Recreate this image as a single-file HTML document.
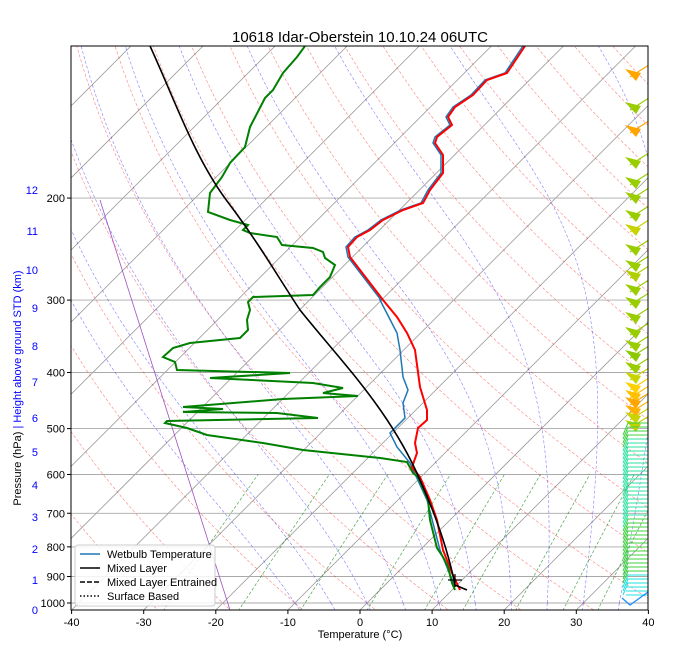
<!DOCTYPE html>
<html><head><meta charset="utf-8"><style>
body{margin:0;background:#fff;}
svg{display:block;font-family:"Liberation Sans","DejaVu Sans",sans-serif;}
</style></head><body>
<svg id="s" width="676" height="662" xmlns="http://www.w3.org/2000/svg">
<defs><clipPath id="c"><rect x="71" y="46" width="577" height="564"/></clipPath></defs>
<rect width="676" height="662" fill="#fff"/>
<g id="bg" clip-path="url(#c)"></g>
<g id="data" clip-path="url(#c)"></g>
<rect x="71" y="46" width="577" height="564" fill="none" stroke="#000" stroke-width="1"/>
<text x="360" y="42" font-size="15" text-anchor="middle">10618 Idar-Oberstein 10.10.24 06UTC</text>
<g id="ax" font-size="11"></g>
<g font-size="11">
<rect x="75" y="545" width="140" height="61" fill="#fff" fill-opacity="0.85" stroke="#ccc" rx="3"/>
<line x1="80" y1="554" x2="100" y2="554" stroke="#1f77b4" stroke-width="1.5"/><text x="107" y="558">Wetbulb Temperature</text>
<line x1="80" y1="568" x2="100" y2="568" stroke="#000" stroke-width="1.5"/><text x="107" y="572">Mixed Layer</text>
<line x1="80" y1="582" x2="100" y2="582" stroke="#000" stroke-width="1.5" stroke-dasharray="5,2"/><text x="107" y="586">Mixed Layer Entrained</text>
<line x1="80" y1="596" x2="100" y2="596" stroke="#000" stroke-width="1.5" stroke-dasharray="1.5,2"/><text x="107" y="600">Surface Based</text>
</g>
<text transform="translate(21,388) rotate(-90)" font-size="11" text-anchor="middle"><tspan fill="#000">Pressure (hPa)</tspan><tspan fill="#00f">  |  Height above ground STD (km)</tspan></text>
<text x="360" y="638" font-size="11" text-anchor="middle">Temperature (°C)</text>
</svg>
<script>
var NS="http://www.w3.org/2000/svg";
function Y(p){return 603+251.6*Math.log(p/1000);}
function X(T,y){return 360+T*7.21+(610-y);}
function el(g,tag,a,txt){var e=document.createElementNS(NS,tag);for(var k in a)e.setAttribute(k,a[k]);if(txt!=null)e.textContent=txt;document.getElementById(g).appendChild(e);return e;}
function pl(g,pts,a){a.points=pts.map(function(q){return q[0].toFixed(1)+","+q[1].toFixed(1)}).join(" ");a.fill="none";el(g,"polyline",a);}
for(var T=-120;T<=40;T+=10){pl("bg",[[X(T,610),610],[X(T,46),46]],{stroke:"#999","stroke-width":0.8});}
[1000,900,800,700,600,500,400,300,200].forEach(function(p){pl("bg",[[71,Y(p)],[648,Y(p)]],{stroke:"#aaa","stroke-width":0.9});});
for(var th=243.15;th<=473.15;th+=10){var pts=[];for(var p=1050;p>=100;p-=10){var t=th*Math.pow(p/1000,0.286)-273.15;var y=Y(p);pts.push([X(t,y),y]);}pl("bg",pts,{stroke:"#f00","stroke-width":0.6,"stroke-dasharray":"3,2",opacity:0.5});}
function es(tc){return 6.112*Math.exp(17.67*tc/(tc+243.5));}
for(var T0=-10;T0<=40;T0+=5){var t=T0+273.15;var up=[];
 for(var pp=1000;pp>=100;pp-=5){var tc=t-273.15;var e=es(tc);var rs=0.622*e/(pp-e);var dt=(287*t+2.5e6*rs)/(1004+2.5e6*2.5e6*rs*0.622/(287*t*t))/pp;var y=Y(pp);up.push([X(tc,y),y]);t-=dt*5;}
 pl("bg",up,{stroke:"#00f","stroke-width":0.6,"stroke-dasharray":"3,2",opacity:0.5});
 t=T0+273.15;var dn=[];for(var pp=1000;pp<=1050;pp+=5){var tc=t-273.15;var y=Y(pp);dn.push([X(tc,y),y]);var e=es(tc);var rs=0.622*e/(pp-e);var dt=(287*t+2.5e6*rs)/(1004+2.5e6*2.5e6*rs*0.622/(287*t*t))/pp;t+=dt*5;}
 pl("bg",dn,{stroke:"#00f","stroke-width":0.6,"stroke-dasharray":"3,2",opacity:0.5});
}
[0.0004,0.001,0.002,0.004,0.007,0.01,0.016,0.024,0.032].forEach(function(w){var pts=[];for(var p=1050;p>=600;p-=10){var e=p*w/(0.622+w);var l=Math.log(e/6.112);var td=243.5*l/(17.67-l);var y=Y(p);pts.push([X(td,y),y]);}pl("bg",pts,{stroke:"#008000","stroke-width":0.7,"stroke-dasharray":"3,2",opacity:0.7});});
pl("bg",[[100,200],[230,610]],{stroke:"#a050c0","stroke-width":0.8});
var red=[[525,46],[507,73],[487,80],[473,95],[455,107],[448,117],[452,125],[437,137],[435,143],[443,155],[443,173],[430,190],[423,203],[403,210],[383,220],[370,230],[357,237],[348,247],[350,257],[360,270],[383,300],[397,317],[407,333],[415,350],[420,387],[427,410],[427,420],[418,428],[415,443],[417,453],[412,467],[420,477],[430,500],[437,520],[443,550],[452,573],[460,590]];
var blue=red.slice(0,21).map(function(q){return [q[0]-2,q[1]]}).concat([[380,300],[397,333],[400,350],[403,377],[408,390],[403,403],[405,418],[390,433],[397,447],[410,463],[427,500],[440,550],[455,587]]);
var grn=[[305,46],[297,57],[283,73],[273,90],[265,98],[250,127],[245,147],[230,163],[222,177],[210,193],[208,212],[230,220],[248,225],[243,230],[250,233],[277,237],[282,245],[313,248],[323,252],[325,258],[335,265],[330,277],[320,287],[313,295],[253,297],[248,302],[250,310],[247,320],[248,330],[240,338],[190,343],[173,348],[163,357],[175,362],[177,370],[290,373],[210,378],[313,383],[343,388],[323,393],[358,396],[283,399],[183,407],[223,409],[183,412],[277,413],[318,418],[167,421],[165,423],[187,428],[207,435],[263,443],[303,450],[380,458],[407,462],[413,473],[418,477],[428,500],[430,520],[435,540],[437,548],[443,557],[448,567],[452,583],[455,590]];
pl("data",blue,{stroke:"#1f77b4","stroke-width":1.5});
pl("data",red,{stroke:"#f00","stroke-width":2});
pl("data",grn,{stroke:"#008000","stroke-width":2});
el("data","path",{d:"M150,46 C175,100 195,160 230,205 C260,245 280,280 300,310 C340,360 390,410 420,480 C440,525 450,560 455,585 L467,590",fill:"none",stroke:"#000","stroke-width":1.6});
pl("data",[[448,580],[462,580]],{stroke:"#000","stroke-width":1.2});pl("data",[[455,574],[455,587]],{stroke:"#000","stroke-width":1.2});
function barb(y,col){pl("data",[[630,y],[652,y-14]],{stroke:col,"stroke-width":1.2});el("data","polygon",{points:"625,"+(y-8)+" 636,"+(y+4)+" 641,"+(y-4),fill:col});}
var barbs=[[77,"#ffa500"],[110,"#9acd00"],[133,"#ffa500"],[165,"#9acd00"],[185,"#9acd00"],[200,"#9acd00"],[218,"#9acd00"],[232,"#c8d400"],[252,"#9acd00"],[268,"#9acd00"],[278,"#b0d000"],[292,"#9acd00"],[305,"#9acd00"],[320,"#9acd00"],[335,"#9acd00"],[348,"#9acd00"],[358,"#8cc800"],[370,"#9acd00"],[380,"#c8d400"],[390,"#ffd000"],[398,"#ffc000"],[405,"#ffa500"],[413,"#ffb000"],[420,"#c8d400"],[428,"#c0d000"]];
barbs.forEach(function(b){barb(b[0],b[1]);});
for(var yy=435;yy<=598;yy+=4){var col=(yy<450||yy>530)?"#40d040":"#30e0a0";if(yy>585)col="#20e0e0";pl("data",[[623+(yy%8==0?3:0),yy],[628,yy-12],[648,yy-12]],{stroke:col,"stroke-width":1});pl("data",[[626,yy],[648,yy]],{stroke:col,"stroke-width":1});}
pl("data",[[622,598],[630,605],[648,592]],{stroke:"#1e90ff","stroke-width":1.3});
for(var T=-40;T<=40;T+=10){el("ax","line",{x1:X(T,610),y1:610,x2:X(T,610),y2:614,stroke:"#000"});el("ax","text",{x:X(T,610),y:626,"text-anchor":"middle"},T);}
[1000,900,800,700,600,500,400,300,200].forEach(function(p){el("ax","line",{x1:67,y1:Y(p),x2:71,y2:Y(p),stroke:"#000"});el("ax","text",{x:65,y:Y(p)+4,"text-anchor":"end"},p);});
var km=[610,580,549,517,485,452,418,382,346,308,270,231,190];
km.forEach(function(y,i){el("ax","text",{x:38,y:y+4,"text-anchor":"end",fill:"#00f"},i);});
</script>
</body></html>
